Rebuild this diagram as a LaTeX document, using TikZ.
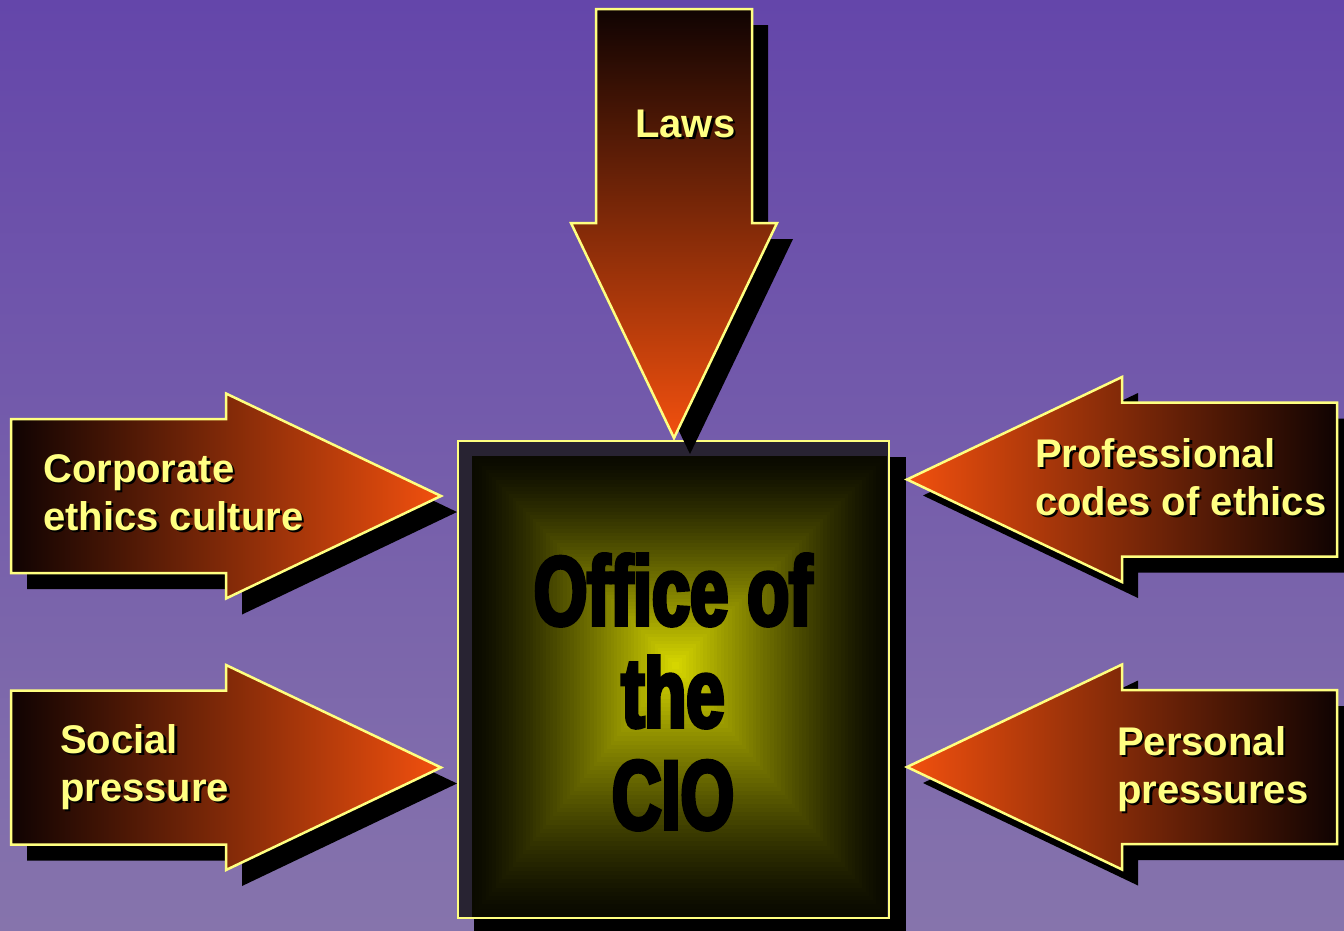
\documentclass[tikz,border=0pt]{standalone}
\usepackage{fontspec}
\setmainfont{Liberation Sans}
\newfontfamily\heavyfont{Liberation Sans Bold}[FakeStretch=0.7,FakeBold=4]
\usetikzlibrary{calc}

\definecolor{bgtop}{RGB}{100,70,170}
\definecolor{bgbot}{RGB}{134,116,172}
\definecolor{rimyellow}{RGB}{255,255,128}
\definecolor{labelyellow}{RGB}{255,255,130}
\definecolor{arrdark}{RGB}{16,3,2}
\definecolor{arrhot}{RGB}{242,80,14}
\definecolor{coreyellow}{RGB}{218,218,0}
\definecolor{edgeolive}{RGB}{10,10,0}
\definecolor{framegray}{RGB}{40,35,50}

\tikzset{
  dropshadow/.style={fill=black},
  arrowbody/.style={draw=rimyellow, line width=2.5pt, line join=miter},
  lbl/.style={font=\fontsize{40}{48}\selectfont\bfseries, text=labelyellow,
    inner sep=0pt, anchor=base west},
  lblshadow/.style={lbl, text=black},
  ciotext/.style={font=\heavyfont\fontsize{98}{103}\selectfont, text=black,
    inner sep=0pt, anchor=base},
}

% label with a small black drop shadow: name, base-left point, text
\newcommand\castlabel[3]{%
  \node[lblshadow] (#1-sh) at ($(#2)+(2.5,2.5)$) {#3};
  \node[lbl] (#1) at (#2) {#3};}

% outlines of the five arrows
\def\lawspath{(596,9) -- (596,223) -- (571,223) -- (674,438) -- (777,223) -- (752,223) -- (752,9) -- cycle}
\def\corppath{(11,419) -- (226,419) -- (226,393.5) -- (441,496) -- (226,598.5) -- (226,573) -- (11,573) -- cycle}
\def\socialpath{(11,690.5) -- (226,690.5) -- (226,665) -- (441,767.5) -- (226,870) -- (226,844.5) -- (11,844.5) -- cycle}
\def\profpath{(1337,402.5) -- (1122,402.5) -- (1122,377) -- (907,479.5) -- (1122,582) -- (1122,556.5) -- (1337,556.5) -- cycle}
\def\perspath{(1337,690) -- (1122,690) -- (1122,664.5) -- (907,767) -- (1122,869.5) -- (1122,844) -- (1337,844) -- cycle}

\begin{document}
\begin{tikzpicture}[x=1pt,y=-1pt]
  \useasboundingbox (0,0) rectangle (1344,930);
  \clip (0,0) rectangle (1344,930);

  % backdrop
  \shade[top color=bgtop, bottom color=bgbot] (0,0) rectangle (1344,930);

  % central box: shadow, frame, concentric glow, rim
  \fill[dropshadow] (474,457) rectangle (906,940);
  \fill[framegray] (458,441) rectangle (889,918);
  \foreach \i in {0,...,59}{
    \pgfmathsetmacro\s{\i/60}
    \pgfmathsetmacro\p{100*\s^1.3}
    \fill[coreyellow!\p!edgeolive]
      ({472+(675-472)*\s},{456+(665-456)*\s}) rectangle
      ({887-(887-675)*\s},{917-(917-665)*\s});
  }
  \draw[rimyellow, line width=2.5pt] (458,441) rectangle (889,918);
  \node[ciotext] (cio1) at (673,625) {Office of};
  \node[ciotext] (cio2) at (673,727) {the};
  \node[ciotext] (cio3) at (673,829) {CIO};

  % arrow shadows
  \begin{scope}[shift={(16,16)}]
    \fill[dropshadow] \lawspath;
    \fill[dropshadow] \corppath;
    \fill[dropshadow] \socialpath;
    \fill[dropshadow] \profpath;
    \fill[dropshadow] \perspath;
  \end{scope}

  % arrows
  \draw[arrowbody, top color=arrdark, bottom color=arrhot] \lawspath;
  \draw[arrowbody, left color=arrdark, right color=arrhot] \corppath;
  \draw[arrowbody, left color=arrdark, right color=arrhot] \socialpath;
  \draw[arrowbody, left color=arrhot, right color=arrdark] \profpath;
  \draw[arrowbody, left color=arrhot, right color=arrdark] \perspath;

  % arrow labels
  \castlabel{laws}{635,137}{Laws}
  \castlabel{corp1}{43,482}{Corporate}
  \castlabel{corp2}{43,530}{ethics culture}
  \castlabel{soc1}{60,753}{Social}
  \castlabel{soc2}{60,801}{pressure}
  \castlabel{prof1}{1035,467}{Professional}
  \castlabel{prof2}{1035,515}{codes of ethics}
  \castlabel{pers1}{1117,755}{Personal}
  \castlabel{pers2}{1117,803}{pressures}
\end{tikzpicture}
\end{document}
